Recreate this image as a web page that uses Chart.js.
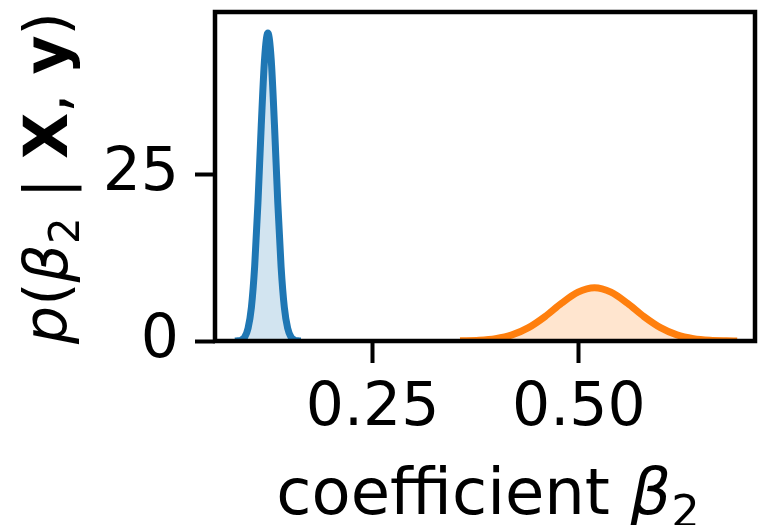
<!DOCTYPE html>
<html lang="en">
<head>
    <meta charset="UTF-8">
    <title>coefficient beta 2</title>
    <script src="https://cdn.jsdelivr.net/npm/chart.js"></script>
    <style>
        body { margin: 0; background: #fff; }
        #wrap { position: relative; width: 759px; height: 525px; }
    </style>
</head>
<body>
<div id="wrap">
    <canvas id="myChart" width="759" height="525"></canvas>
</div>
<script>
    // posterior densities
    const blueX = [0.083, 0.087, 0.091, 0.095, 0.099, 0.103, 0.107, 0.111, 0.115, 0.119, 0.123,
        0.127, 0.131, 0.135, 0.139, 0.143, 0.147, 0.151, 0.155, 0.159, 0.163];
    const blueY = [0.0, 0.03, 0.16, 0.6, 1.9, 5.0, 11.2, 20.8, 32.4, 42.3, 46.2,
        42.3, 32.4, 20.8, 11.2, 5.0, 1.9, 0.6, 0.16, 0.03, 0.0];

    const orangeX = [0.356, 0.379, 0.399, 0.419, 0.439, 0.459, 0.479, 0.499, 0.519,
        0.539, 0.559, 0.579, 0.599, 0.619, 0.639, 0.659, 0.679, 0.692];
    const orangeY = [0.02, 0.11, 0.35, 0.91, 2.0, 3.66, 5.66, 7.33, 8.0,
        7.33, 5.66, 3.66, 2.0, 0.91, 0.35, 0.11, 0.03, 0.01];

    const xTicks = [0.25, 0.5];
    const yTicks = [0, 25];

    const FONT = "'DejaVu Sans', sans-serif";
    const FS = 60;

    function pts(xs, ys) {
        return xs.map(function (x, i) { return { x: x, y: ys[i] }; });
    }

    // draws text made of pieces with different styles (italic, bold, subscript)
    function drawRich(ctx, segs, cx, cy, rot, size) {
        ctx.save();
        ctx.translate(cx, cy);
        ctx.rotate(rot);
        ctx.fillStyle = '#000';
        ctx.textBaseline = 'alphabetic';
        ctx.textAlign = 'left';
        let total = 0;
        segs.forEach(function (s) {
            let sz = s.sub ? size * 0.7 : size;
            ctx.font = (s.style || '') + ' ' + sz + 'px ' + FONT;
            s.w = ctx.measureText(s.t).width;
            total += s.w;
        });
        let x = -total / 2;
        segs.forEach(function (s) {
            let sz = s.sub ? size * 0.7 : size;
            ctx.font = (s.style || '') + ' ' + sz + 'px ' + FONT;
            ctx.fillText(s.t, x, s.sub ? size * 0.2 : 0);
            x += s.w;
        });
        ctx.restore();
    }

    const framePlugin = {
        id: 'frame',
        afterDatasetsDraw(chart) {
            const ctx = chart.ctx;
            const a = chart.chartArea;
            ctx.save();
            ctx.strokeStyle = '#000';
            ctx.lineWidth = 4.5;
            ctx.strokeRect(a.left, a.top, a.right - a.left, a.bottom - a.top);
            ctx.restore();
        },
        afterDraw(chart) {
            const ctx = chart.ctx;
            drawRich(ctx, [
                { t: 'p', style: 'italic' },
                { t: '(' },
                { t: 'β', style: 'italic' },
                { t: '2', sub: true },
                { t: ' | ' },
                { t: 'X', style: 'bold' },
                { t: ', ' },
                { t: 'y', style: 'bold' },
                { t: ')' }
            ], 67, 178, -Math.PI / 2, FS);
            drawRich(ctx, [
                { t: 'coefficient ' },
                { t: 'β', style: 'italic' },
                { t: '2', sub: true }
            ], 488, 514, 0, 64);
        }
    };

    function noPad(s) {
        s.paddingTop = 0;
        s.paddingBottom = 0;
        s.paddingLeft = 0;
        s.paddingRight = 0;
    }

    const data = {
        datasets: [{
            data: pts(blueX, blueY),
            borderColor: '#1f77b4',
            backgroundColor: 'rgba(31, 119, 180, 0.2)',
            borderWidth: 7,
            fill: 'origin',
            pointRadius: 0,
            showLine: true,
            cubicInterpolationMode: 'monotone'
        }, {
            data: pts(orangeX, orangeY),
            borderColor: '#ff7f0e',
            backgroundColor: 'rgba(255, 127, 14, 0.2)',
            borderWidth: 7,
            fill: 'origin',
            pointRadius: 0,
            showLine: true,
            cubicInterpolationMode: 'monotone'
        }]
    };

    const config = {
        type: 'scatter',
        data: data,
        options: {
            responsive: false,
            animation: false,
            layout: { padding: { top: 12, right: 4, left: 0, bottom: 0 } },
            plugins: { legend: { display: false }, tooltip: { enabled: false } },
            scales: {
                x: {
                    type: 'linear',
                    min: 0.0589,
                    max: 0.7136,
                    afterFit: function (s) { s.height = 184; noPad(s); },
                    afterBuildTicks: function (s) { s.ticks = xTicks.map(function (v) { return { value: v }; }); },
                    border: { display: false },
                    grid: { drawOnChartArea: false, drawTicks: true, tickLength: 22, tickWidth: 4, tickColor: '#000' },
                    ticks: {
                        color: '#000',
                        padding: 10,
                        maxRotation: 0,
                        font: { family: FONT, size: FS },
                        callback: function (v) { return v.toFixed(2); }
                    }
                },
                y: {
                    min: 0,
                    max: 49.35,
                    afterFit: function (s) { s.width = 215; noPad(s); },
                    afterBuildTicks: function (s) { s.ticks = yTicks.map(function (v) { return { value: v }; }); },
                    border: { display: false },
                    grid: { drawOnChartArea: false, drawTicks: true, tickLength: 20, tickWidth: 4, tickColor: '#000' },
                    ticks: {
                        color: '#000',
                        padding: 16,
                        font: { family: FONT, size: FS },
                        callback: function (v) { return String(v); }
                    }
                }
            }
        },
        plugins: [framePlugin]
    };

    const myChart = new Chart(document.getElementById('myChart'), config);
</script>
</body>
</html>
